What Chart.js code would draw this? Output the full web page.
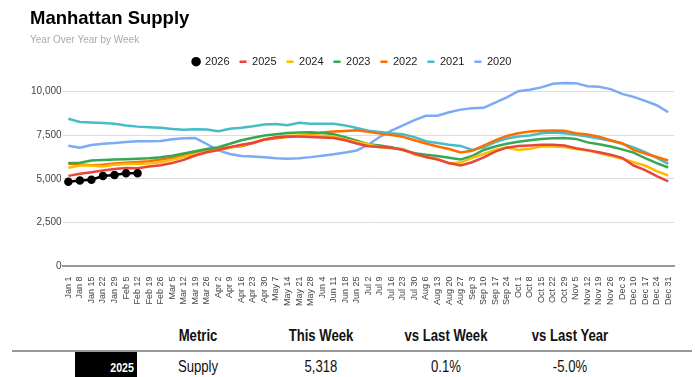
<!DOCTYPE html>
<html>
<head>
<meta charset="utf-8">
<script src="https://cdn.jsdelivr.net/npm/chart.js@4.4.1/dist/chart.umd.min.js"></script>
<style>
	body { margin: 0; background: #fff; width: 695px; height: 377px; overflow: hidden; position: relative; font-family: Arial, "Liberation Sans", sans-serif; }
	#wrap { position: absolute; left: 0; top: 0; width: 695px; height: 309px; }
	.cell { position: absolute; width: 140px; margin-left: -70px; text-align: center; font-family: Arial, "Liberation Sans", sans-serif; font-size: 16px; color: #111; transform: scaleX(0.82); }
	.head { font-weight: bold; top: 327px; }
	.row { top: 358px; }
	#rule { position: absolute; left: 12px; top: 350px; width: 680px; height: 2px; background: #999; }
	#tag { position: absolute; left: 75px; top: 352px; width: 62px; height: 34px; background: #000; }
	#tag span { position: absolute; right: 3px; top: 8px; color: #fff; font-weight: bold; font-size: 13px; transform: scaleX(0.82); transform-origin: right center; }
</style>
</head>
<body>
<div id="wrap"><canvas id="chart"></canvas></div>

<div class="cell head" style="left:198px">Metric</div>
<div class="cell head" style="left:321px">This Week</div>
<div class="cell head" style="left:446px">vs Last Week</div>
<div class="cell head" style="left:570px">vs Last Year</div>
<div id="rule"></div>
<div id="tag"><span>2025</span></div>
<div class="cell row" style="left:198px">Supply</div>
<div class="cell row" style="left:321px">5,318</div>
<div class="cell row" style="left:446px">0.1%</div>
<div class="cell row" style="left:570px">-5.0%</div>

<script>
const weeks = [
	"Jan 1", "Jan 8", "Jan 15", "Jan 22", "Jan 29", "Feb 5", "Feb 12", "Feb 19", "Feb 26",
	"Mar 5", "Mar 12", "Mar 19", "Mar 26", "Apr 2", "Apr 9", "Apr 16", "Apr 23", "Apr 30",
	"May 7", "May 14", "May 21", "May 28", "Jun 4", "Jun 11", "Jun 18", "Jun 25",
	"Jul 2", "Jul 9", "Jul 16", "Jul 23", "Jul 30", "Aug 6", "Aug 13", "Aug 20", "Aug 27",
	"Sep 3", "Sep 10", "Sep 17", "Sep 24", "Oct 1", "Oct 8", "Oct 15", "Oct 22", "Oct 29",
	"Nov 5", "Nov 12", "Nov 19", "Nov 26", "Dec 3", "Dec 10", "Dec 17", "Dec 24", "Dec 31"
]

const yTicks = [0, 2500, 5000, 7500, 10000]

const y2026 = [4830, 4900, 4950, 5160, 5220, 5313, 5318]

const y2025 = [5170, 5290, 5380, 5480, 5560, 5620, 5600, 5700, 5780, 5900, 6080, 6330, 6520, 6650,
	6810, 6950, 7050, 7250, 7370, 7420, 7420, 7390, 7360, 7330, 7200, 7020, 6860, 6820, 6780, 6660,
	6450, 6250, 6100, 5900, 5770, 5950, 6230, 6550, 6780, 6880, 6910, 6950, 6950, 6900, 6750, 6640,
	6520, 6380, 6200, 5760, 5500, 5150, 4860]

const y2024 = [5630, 5760, 5760, 5710, 5800, 5850, 5860, 5880, 5950, 6090, 6250, 6400, 6530, 6650,
	6780, 6900, 7080, 7250, 7370, 7460, 7480, 7480, 7460, 7420, 7250, 7100, 6970, 6800, 6750, 6700,
	6380, 6250, 6150, 5880, 5930, 6200, 6420, 6650, 6800, 6650, 6720, 6840, 6850, 6820, 6700, 6620,
	6480, 6320, 6150, 5950, 5760, 5440, 5190]

const y2023 = [5900, 5920, 6050, 6080, 6100, 6120, 6140, 6170, 6230, 6320, 6450, 6580, 6700, 6800,
	7000, 7200, 7350, 7470, 7550, 7620, 7650, 7660, 7620, 7540, 7380, 7180, 6980, 6900, 6800, 6640,
	6460, 6370, 6300, 6200, 6100, 6300, 6650, 6850, 7000, 7120, 7200, 7270, 7320, 7330, 7280, 7080,
	6970, 6850, 6680, 6500, 6180, 5900, 5650]

const y2022 = [5860, 5820, 5770, 5800, 5870, 5920, 5960, 6000, 6100, 6200, 6380, 6520, 6620, 6720,
	6810, 6860, 7050, 7230, 7320, 7390, 7450, 7530, 7640, 7700, 7730, 7770, 7680, 7580, 7500, 7400,
	7200, 7020, 6850, 6700, 6500, 6600, 6900, 7200, 7450, 7600, 7700, 7740, 7760, 7740, 7600, 7530,
	7400, 7200, 7030, 6650, 6450, 6250, 6050]

const y2021 = [8430, 8250, 8220, 8180, 8150, 8050, 7980, 7950, 7910, 7850, 7800, 7830, 7820, 7720,
	7860, 7920, 8000, 8100, 8130, 8060, 8200, 8150, 8150, 8150, 8050, 7900, 7750, 7680, 7600, 7550,
	7380, 7150, 7050, 6950, 6880, 6650, 6800, 7100, 7300, 7420, 7480, 7600, 7640, 7600, 7520, 7420,
	7300, 7180, 7000, 6800, 6520, 6200, 5850]

const y2020 = [6890, 6780, 6930, 7000, 7040, 7100, 7140, 7140, 7160, 7260, 7320, 7330, 6990, 6620,
	6420, 6300, 6270, 6230, 6180, 6150, 6180, 6240, 6320, 6400, 6500, 6620, 6950, 7400, 7750, 8050,
	8350, 8600, 8600, 8800, 8950, 9030, 9050, 9350, 9650, 10000, 10080, 10220, 10430, 10470, 10460,
	10290, 10260, 10120, 9850, 9680, 9450, 9200, 8800]

const years = ["2026", "2025", "2024", "2023", "2022", "2021", "2020"]
const series = [y2026, y2025, y2024, y2023, y2022, y2021, y2020]
const colors = ["#000000", "#E8453C", "#FBBC04", "#34A853", "#FF6D01", "#46BDC6", "#7BAAF7"]

Chart.defaults.font.family = 'Arial, "Liberation Sans", sans-serif'

const datasets = years.map((y, i) => ({
	label: y,
	data: series[i],
	borderColor: colors[i],
	backgroundColor: colors[i],
	borderWidth: 2.5,
	pointStyle: i === 0 ? "circle" : "line",
	pointRadius: i === 0 ? 3 : 0,
	pointHoverRadius: 0,
	tension: 0,
	fill: false
}))

new Chart(document.getElementById("chart"), {
	type: "line",
	data: { labels: weeks, datasets: datasets },
	options: {
		responsive: true,
		maintainAspectRatio: false,
		animation: false,
		layout: { padding: { left: 30, right: 21, top: 0, bottom: 1 } },
		plugins: {
			title: {
				display: true,
				text: "Manhattan Supply",
				align: "start",
				color: "#000",
				font: { size: 18.5, weight: "bold" },
				padding: { top: 8, bottom: 1 }
			},
			subtitle: {
				display: true,
				text: "Year Over Year by Week",
				align: "start",
				color: "#aaa",
				font: { size: 10 },
				padding: { top: 3, bottom: 0 }
			},
			legend: {
				position: "top",
				labels: {
					usePointStyle: true,
					boxWidth: 7,
					boxHeight: 5,
					padding: 10,
					color: "#222",
					font: { size: 11 }
				}
			},
			tooltip: { enabled: false }
		},
		scales: {
			x: {
				offset: true,
				grid: { display: false },
				border: { display: true, color: "#999", width: 2 },
				ticks: {
					autoSkip: false,
					maxRotation: 90,
					minRotation: 90,
					color: "#444",
					font: { size: 9 },
					padding: 2
				}
			},
			y: {
				min: 0,
				max: 10800,
				border: { display: false },
				grid: { color: "#ddd", drawTicks: false },
				afterBuildTicks: axis => {
					axis.ticks = yTicks.map(v => ({ value: v }))
				},
				ticks: {
					color: "#444",
					font: { size: 10 },
					padding: 1
				}
			}
		}
	}
})
</script>
</body>
</html>
